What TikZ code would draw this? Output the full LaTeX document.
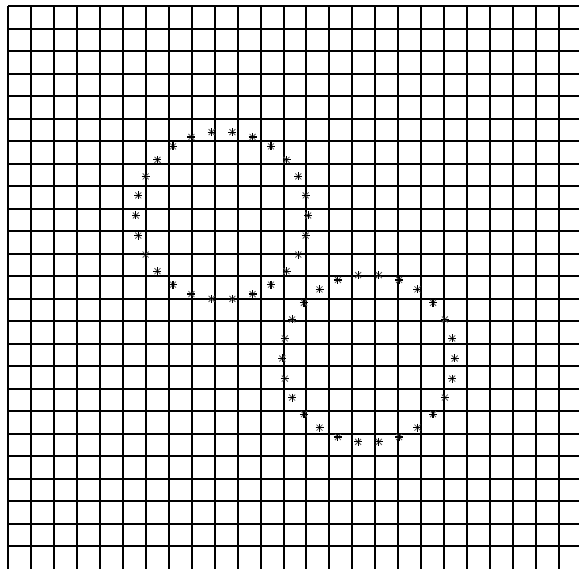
\documentclass[tikz,border=0pt]{standalone}
\begin{document}
\begin{tikzpicture}[x=1pt,y=-1pt,
  gridline/.style={black,line width=1.25pt},
  plusarm/.style={black,line width=1.1pt},
  crossarm/.style={black!65,line width=0.8pt}]
\fill[white] (0,0) rectangle (579,569);
\useasboundingbox (0,0) rectangle (579,569);
\foreach \i in {0,...,24} {
  \pgfmathsetmacro{\gx}{round(8+\i*22.96)}
  \pgfmathsetmacro{\gy}{round(6+\i*22.5)}
  \draw[gridline] (\gx,6) -- (\gx,569);
  \draw[gridline] (8,\gy) -- (579,\gy);
}
\foreach \cx/\cy in {222/215.5, 368.5/358.5} {
  \foreach \k in {0,...,25} {
    \pgfmathsetmacro{\px}{\cx+86.2*cos(\k*360/26)}
    \pgfmathsetmacro{\py}{\cy+84*sin(\k*360/26)}
    \draw[crossarm] (\px-3,\py-3) -- (\px+3,\py+3) (\px-3,\py+3) -- (\px+3,\py-3);
    \draw[plusarm] (\px-4,\py) -- (\px+4,\py) (\px,\py-4) -- (\px,\py+4);
  }
}
\end{tikzpicture}
\end{document}
